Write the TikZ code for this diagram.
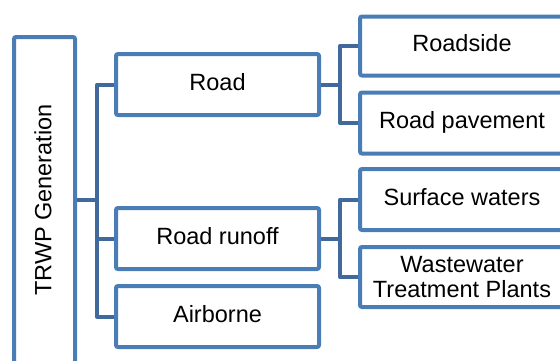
\documentclass[tikz,border=0pt]{standalone}
\usepackage{fontspec}
\setmainfont{Liberation Sans}
\definecolor{boxblue}{HTML}{4A7CB6}
\definecolor{linkblue}{HTML}{41699C}
\begin{document}
\begin{tikzpicture}[x=1pt,y=-1pt,
  frame/.style={draw=boxblue, line width=4pt, rounded corners=2pt, fill=white,
    inner sep=0pt, font=\fontsize{23.5}{25}\selectfont, align=center},
  box/.style={frame, text height=17.6pt, text depth=5.9pt},
  link/.style={draw=linkblue, line width=4pt, line join=round}]
\useasboundingbox (0,0) rectangle (560,360);
\clip (0,0) rectangle (560,360);
% connectors
\coordinate (j1) at (97,200);
\coordinate (j2) at (340,84.5);
\coordinate (j3) at (340,238.5);
\node[frame, minimum width=61pt, minimum height=326pt] (trwp) at (44.5,200) {};
\node[rotate=90, font=\fontsize{23.5}{25}\selectfont, text height=17.6pt, text depth=5.9pt, inner sep=0pt] (trwpt) at (45.5,200) {TRWP Generation};
\node[box, minimum width=203pt, minimum height=61pt] (road) at (217.5,84.5) {Road};
\node[box, minimum width=203pt, minimum height=61pt] (runoff) at (217.5,238.5) {Road runoff};
\node[box, minimum width=203pt, minimum height=61pt] (air) at (217.5,316.5) {Airborne};
\node[box, minimum width=204pt, minimum height=59pt] (side) at (462,46) {Roadside};
\node[box, minimum width=204pt, minimum height=61pt] (pave) at (462,123) {Road pavement};
\node[box, minimum width=204pt, minimum height=61pt] (surf) at (462,199.5) {Surface waters};
\node[frame, minimum width=204pt, minimum height=60pt] (wwtp) at (462,277) {Wastewater\\Treatment Plants};
\draw[link] (trwp.east |- j1) -- (j1);
\draw[link] (road.west) -| (j1) |- (air.west);
\draw[link] (runoff.west) -- (j1 |- runoff.west);
\draw[link] (road.east) -- (j2);
\draw[link] (side.west) -| (j2) |- (pave.west);
\draw[link] (runoff.east) -- (j3);
\draw[link] (surf.west) -| (j3) |- (wwtp.west);
\end{tikzpicture}
\end{document}
